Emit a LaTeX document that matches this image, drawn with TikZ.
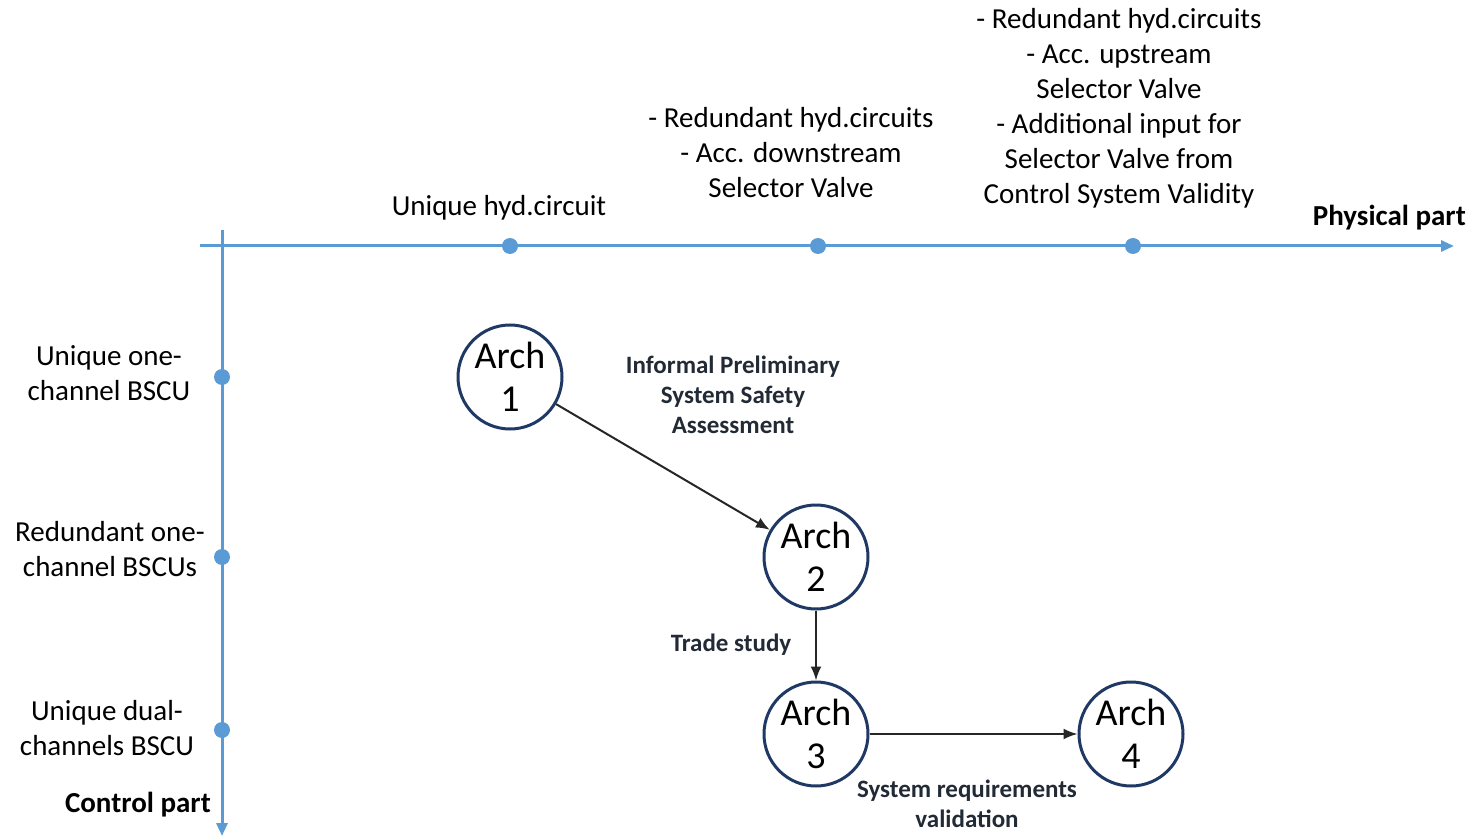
\documentclass[tikz,border=0pt]{standalone}
\usepackage{fontspec}
\setmainfont{Carlito}
\usetikzlibrary{arrows.meta}
\definecolor{axisblue}{HTML}{5B9BD5}
\definecolor{ringnavy}{HTML}{1F3864}
\definecolor{linkdark}{HTML}{262626}
\definecolor{notedark}{HTML}{222A35}
\begin{document}
\begin{tikzpicture}[x=1pt,y=-1pt,
  axis/.style={draw=axisblue,line width=3pt,-{Triangle[length=13pt,width=11pt]}},
  tick/.style={circle,fill=axisblue,minimum size=16pt,inner sep=0pt},
  arch/.style={circle,draw=ringnavy,line width=3pt,minimum size=104pt,inner sep=0pt,
    align=center,font=\fontsize{38}{43}\selectfont},
  link/.style={draw=linkdark,line width=2pt,-{Latex[length=14pt,width=11pt]}},
  lbl/.style={inner sep=0pt,align=center,font=\fontsize{29}{35}\selectfont},
  note/.style={inner sep=0pt,align=center,text=notedark,font=\fontsize{25}{30}\selectfont\bfseries},
  axlbl/.style={inner sep=0pt,font=\fontsize{29}{30}\selectfont\bfseries}]
\useasboundingbox (0,0) rectangle (1476,837);

% axes
\coordinate (hx0) at (200,246);
\coordinate (hx1) at (1454,246);
\coordinate (vy0) at (222,230);
\coordinate (vy1) at (222,836);
\draw[axis] (hx0) -- (hx1);
\draw[axis] (vy0) -- (vy1);

% ticks on the physical axis
\node[tick] (p1) at (510,246) {};
\node[tick] (p2) at (818,246) {};
\node[tick] (p3) at (1133,246) {};
% ticks on the control axis
\node[tick] (c1) at (222,377) {};
\node[tick] (c2) at (222,557) {};
\node[tick] (c3) at (222,730) {};

% axis titles
\node[axlbl,anchor=east] (phys) at (1466,218) {Physical part};
\node[axlbl,anchor=east] (ctrl) at (211,805) {Control part};

% physical options
\node[lbl] (t1) at (499,208) {Unique hyd.circuit};
\node[lbl] (t2) at (791,153) {- Redundant hyd.circuits\\- Acc. downstream\\Selector Valve};
\node[lbl] (t3) at (1119,108) {- Redundant hyd.circuits\\- Acc. upstream\\Selector Valve\\- Additional input for\\Selector Valve from\\Control System Validity};

% control options
\node[lbl] (l1) at (109,373) {Unique one-\\channel BSCU};
\node[lbl] (l2) at (110,549) {Redundant one-\\channel BSCUs};
\node[lbl] (l3) at (107,728) {Unique dual-\\channels BSCU};

% architectures
\node[arch] (a1) at (510,377) {Arch\\1};
\node[arch] (a2) at (816,557) {Arch\\2};
\node[arch] (a3) at (816,734) {Arch\\3};
\node[arch] (a4) at (1131,734) {Arch\\4};

\draw[link] (a1) -- (a2);
\draw[link] (a2) -- (a3);
\draw[link] (a3) -- (a4);

% transition notes
\node[note] (n1) at (733,395) {Informal Preliminary\\System Safety\\Assessment};
\node[note] (n2) at (731,645) {Trade study};
\node[note] (n3) at (967,804) {System requirements\\validation};
\end{tikzpicture}
\end{document}
